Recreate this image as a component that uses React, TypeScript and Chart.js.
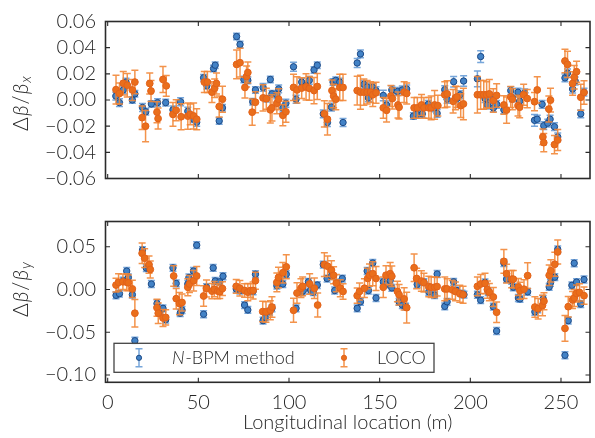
import { useEffect, useRef } from 'react';
import { Chart, registerables } from 'chart.js';

Chart.register(...registerables);

// ---- data: [longitudinal position (m), value, error] ----
const nbpmBetaX: [number, number, number][] = [
  [4.5, 0.003, 0.003], [6.5, -0.002, 0.003], [8.6, 0.0077, 0.003], [10.1, 0.0137, 0.003],
  [13.6, 0.0, 0.0025], [15.0, 0.0047, 0.0025], [19.2, -0.0057, 0.003], [21.0, -0.009, 0.0025],
  [24.1, -0.003, 0.0025], [27.5, -0.002, 0.003], [32.0, -0.002, 0.0025], [36.0, -0.0075, 0.003],
  [40.2, -0.0013, 0.003], [44.2, -0.0086, 0.003], [47.4, -0.0147, 0.0025], [49.1, -0.017, 0.003],
  [52.9, 0.017, 0.0025], [54.7, 0.011, 0.0025], [58.4, 0.024, 0.0025], [59.3, 0.0266, 0.0025],
  [61.5, -0.016, 0.0025], [63.3, -0.006, 0.0025], [71.1, 0.0485, 0.0025], [73.0, 0.0425, 0.0025],
  [75.1, 0.0157, 0.0025], [77.3, 0.015, 0.0025], [80.0, -0.0013, 0.0025], [81.5, 0.0077, 0.0025],
  [85.7, 0.0096, 0.003], [87.5, 0.001, 0.0025], [89.7, 0.0157, 0.0025], [90.6, 0.0047, 0.0025],
  [93.3, 0.004, 0.003], [94.3, 0.0085, 0.003], [96.6, -0.0062, 0.003], [98.3, -0.0025, 0.003],
  [102.5, 0.0254, 0.0035], [103.9, 0.0006, 0.003], [107.0, 0.0137, 0.003], [109.4, 0.011, 0.003],
  [111.2, 0.015, 0.003], [113.8, 0.023, 0.0025], [115.6, 0.0266, 0.0025], [118.9, -0.0106, 0.003],
  [121.2, -0.0172, 0.003], [123.4, -0.0055, 0.003], [124.3, 0.0137, 0.0025], [125.8, 0.015, 0.0025],
  [128.0, 0.0137, 0.003], [129.8, -0.0172, 0.003], [137.6, 0.0283, 0.0035], [139.4, 0.0352, 0.003],
  [141.3, 0.012, 0.003], [143.1, 0.01, 0.003], [143.8, 0.0016, 0.003], [146.2, 0.0096, 0.003],
  [148.0, 0.0072, 0.003], [152.0, 0.0035, 0.004], [153.8, -0.0038, 0.003], [156.7, 0.0077, 0.003],
  [159.8, 0.0065, 0.003], [162.5, 0.0077, 0.003], [164.9, 0.0084, 0.003], [168.6, -0.0123, 0.0025],
  [170.4, -0.011, 0.0025], [173.5, -0.0106, 0.0025], [176.8, -0.0033, 0.003], [180.3, -0.006, 0.003],
  [181.7, -0.0102, 0.003], [185.9, 0.0079, 0.003], [187.2, 0.0006, 0.003], [190.8, 0.014, 0.004],
  [192.6, 0.0011, 0.003], [194.4, 0.004, 0.003], [196.3, 0.0145, 0.004], [203.9, 0.0162, 0.006],
  [205.7, 0.0332, 0.0045], [208.1, 0.0011, 0.003], [209.4, -0.0038, 0.003], [210.5, 0.0023, 0.003],
  [212.7, -0.006, 0.003], [214.5, -0.0033, 0.003], [218.5, -0.0075, 0.003], [222.3, 0.0072, 0.003],
  [223.2, 0.0016, 0.003], [226.3, 0.006, 0.003], [227.2, -0.0009, 0.003], [230.0, 0.0055, 0.003],
  [235.4, -0.0155, 0.0045], [236.9, -0.0147, 0.003], [239.6, -0.0033, 0.003], [240.5, -0.0196, 0.003],
  [242.7, -0.0177, 0.003], [244.0, -0.0147, 0.003], [246.4, -0.0204, 0.003], [248.2, -0.0282, 0.003],
  [252.2, 0.0169, 0.003], [253.6, 0.0206, 0.003], [256.4, 0.0084, 0.003], [257.8, 0.0145, 0.003],
  [260.9, -0.0106, 0.003], [262.7, 0.006, 0.003],
];

const locoBetaX: [number, number, number][] = [
  [4.6, 0.0079, 0.011], [6.5, 0.005, 0.008], [8.6, 0.0128, 0.009], [10.8, 0.0113, 0.009],
  [13.6, 0.0077, 0.008], [15.0, 0.0137, 0.009], [19.0, -0.0135, 0.009], [20.9, -0.02, 0.012],
  [23.2, 0.0126, 0.008], [23.9, 0.0069, 0.008], [27.2, -0.0093, 0.008], [27.8, -0.0142, 0.008],
  [30.5, 0.0157, 0.01], [32.3, 0.0108, 0.008], [36.0, -0.011, 0.009], [37.8, -0.0079, 0.008],
  [40.5, -0.0128, 0.01], [44.2, -0.0123, 0.01], [45.5, -0.011, 0.008], [47.4, -0.0122, 0.01],
  [49.1, -0.0147, 0.008], [53.3, 0.0137, 0.008], [55.0, 0.0137, 0.008], [57.5, 0.006, 0.008],
  [59.0, 0.009, 0.007], [60.0, 0.0126, 0.008], [61.5, -0.005, 0.008], [63.3, 0.0006, 0.01],
  [71.1, 0.0272, 0.011], [73.0, 0.0285, 0.011], [75.7, 0.0096, 0.008], [76.6, 0.018, 0.008],
  [77.3, 0.021, 0.008], [79.7, -0.0093, 0.01], [81.5, -0.0017, 0.008], [85.7, 0.0016, 0.01],
  [87.5, 0.001, 0.008], [89.7, -0.0075, 0.01], [90.6, -0.006, 0.01], [93.3, -0.0025, 0.008],
  [94.3, 0.0006, 0.008], [96.6, -0.0117, 0.008], [98.3, -0.009, 0.008], [102.5, 0.0096, 0.01],
  [104.4, 0.0077, 0.01], [107.0, 0.0091, 0.008], [109.4, 0.01, 0.01], [111.2, 0.0089, 0.009],
  [113.8, 0.0072, 0.01], [115.6, 0.0103, 0.01], [119.5, -0.0106, 0.01], [121.2, -0.0147, 0.012],
  [123.7, 0.0072, 0.008], [124.6, 0.003, 0.009], [125.8, 0.0006, 0.008], [128.0, 0.0096, 0.01],
  [129.8, 0.0096, 0.01], [137.6, 0.0072, 0.011], [139.4, 0.006, 0.013], [141.3, 0.006, 0.01],
  [143.1, 0.006, 0.009], [145.0, 0.006, 0.008], [146.2, 0.004, 0.009], [148.0, 0.0055, 0.008],
  [152.0, -0.006, 0.008], [153.8, -0.0079, 0.009], [156.2, 0.003, 0.008], [157.0, 0.0011, 0.008],
  [160.1, -0.0038, 0.01], [160.7, -0.0055, 0.009], [163.5, 0.006, 0.008], [164.9, 0.005, 0.008],
  [169.0, -0.006, 0.008], [170.8, -0.006, 0.008], [173.1, -0.0038, 0.008], [174.4, -0.006, 0.008],
  [177.1, -0.006, 0.008], [178.4, -0.006, 0.009], [180.3, -0.0038, 0.011], [182.1, -0.0043, 0.008],
  [185.9, 0.004, 0.01], [187.2, 0.0047, 0.01], [190.5, -0.001, 0.009], [191.8, 0.0016, 0.009],
  [192.6, 0.0023, 0.008], [194.7, -0.0043, 0.009], [196.2, -0.003, 0.012], [203.9, 0.004, 0.014],
  [205.7, 0.004, 0.011], [207.4, 0.004, 0.011], [209.0, 0.004, 0.01], [210.5, 0.0047, 0.011],
  [212.7, -0.0004, 0.009], [214.5, 0.0035, 0.009], [218.5, -0.0038, 0.007], [220.0, -0.0077, 0.01],
  [222.3, 0.0023, 0.008], [223.2, 0.0006, 0.008], [226.3, -0.0043, 0.008], [227.2, -0.0055, 0.008],
  [229.4, 0.004, 0.008], [231.4, 0.0011, 0.007], [235.4, -0.0013, 0.007], [236.9, 0.0077, 0.01],
  [240.0, -0.0282, 0.006], [240.5, -0.0326, 0.007], [243.3, -0.0069, 0.01], [244.2, -0.0001, 0.009],
  [246.4, -0.0341, 0.007], [248.2, -0.0306, 0.008], [252.2, 0.0298, 0.009], [253.6, 0.0272, 0.01],
  [256.4, 0.0126, 0.009], [257.3, 0.0174, 0.009], [258.6, 0.0216, 0.008], [260.9, 0.0021, 0.01],
  [262.7, 0.0057, 0.009],
];

const nbpmBetaY: [number, number, number][] = [
  [4.6, -0.0068, 0.004], [6.5, -0.0049, 0.004], [8.6, 0.0102, 0.004], [10.5, 0.0216, 0.004],
  [11.4, 0.014, 0.004], [13.6, -0.006, 0.004], [15.0, -0.0599, 0.004], [19.2, 0.0461, 0.004],
  [21.3, 0.0251, 0.004], [22.8, 0.0251, 0.004], [24.1, 0.0064, 0.004], [27.2, -0.0164, 0.004],
  [28.7, -0.0258, 0.004], [30.5, -0.022, 0.004], [32.0, -0.0352, 0.004], [36.0, 0.0253, 0.004],
  [37.8, 0.0071, 0.004], [40.0, -0.0277, 0.004], [41.0, -0.024, 0.004], [44.2, 0.0064, 0.004],
  [44.8, 0.014, 0.004], [47.3, 0.0216, 0.004], [49.1, 0.0518, 0.004], [52.9, -0.0289, 0.004],
  [54.5, 0.0026, 0.004], [58.2, 0.0253, 0.004], [59.3, 0.01, 0.004], [61.8, 0.009, 0.004],
  [63.6, 0.0155, 0.004], [70.9, 0.0007, 0.004], [72.9, -0.0012, 0.004], [75.5, -0.0182, 0.004],
  [77.3, -0.0239, 0.004], [80.2, -0.002, 0.004], [81.5, 0.0178, 0.004], [85.7, -0.0364, 0.004],
  [86.9, -0.0326, 0.004], [89.3, -0.0258, 0.004], [90.6, -0.022, 0.004], [93.3, 0.0045, 0.004],
  [94.8, 0.009, 0.004], [96.6, 0.0064, 0.004], [98.5, 0.0178, 0.004], [103.9, -0.022, 0.004],
  [107.0, -0.0031, 0.004], [107.9, -0.0012, 0.004], [110.7, 0.009, 0.004], [111.9, -0.0005, 0.004],
  [113.4, -0.0031, 0.004], [115.6, 0.0052, 0.004], [118.9, 0.0291, 0.004], [121.0, 0.0128, 0.004],
  [123.4, 0.0158, 0.004], [125.2, -0.0012, 0.004], [127.0, 0.0079, 0.004], [129.4, 0.0128, 0.004],
  [137.6, -0.022, 0.004], [139.4, -0.0144, 0.004], [143.1, 0.0216, 0.004], [143.8, -0.0012, 0.004],
  [146.2, 0.031, 0.004], [148.0, -0.0099, 0.004], [152.0, 0.009, 0.004], [153.5, 0.006, 0.004],
  [155.8, 0.0105, 0.004], [156.7, 0.0019, 0.004], [160.7, -0.0144, 0.004], [162.5, -0.0182, 0.004],
  [164.3, -0.0201, 0.004], [170.7, 0.006, 0.004], [174.4, 0.0087, 0.004], [177.1, -0.0027, 0.004],
  [180.3, -0.0065, 0.004], [181.7, 0.0181, 0.004], [185.9, -0.0197, 0.004], [187.2, -0.0144, 0.004],
  [190.8, 0.009, 0.004], [192.6, -0.0012, 0.004], [195.4, -0.0049, 0.004], [196.5, -0.006, 0.004],
  [203.9, -0.0061, 0.004], [205.7, -0.0125, 0.004], [208.1, 0.0083, 0.004], [209.9, -0.0031, 0.004],
  [212.7, -0.0201, 0.004], [214.5, -0.0485, 0.004], [218.5, 0.031, 0.004], [220.0, 0.0121, 0.004],
  [222.8, 0.0102, 0.004], [223.7, 0.0026, 0.004], [226.5, -0.0099, 0.004], [227.4, -0.011, 0.004],
  [231.6, -0.0027, 0.004], [235.6, -0.0261, 0.004], [237.1, -0.0231, 0.004], [240.2, -0.011, 0.004],
  [243.5, 0.003, 0.004], [244.2, 0.0079, 0.004], [246.6, 0.0144, 0.004], [248.2, 0.0469, 0.004],
  [252.2, -0.0769, 0.004], [254.0, -0.0364, 0.004], [256.0, 0.0049, 0.004], [257.3, 0.0307, 0.004],
  [258.6, 0.0087, 0.004], [260.9, -0.017, 0.004], [262.7, 0.0117, 0.004],
];

const locoBetaY: [number, number, number][] = [
  [4.6, 0.0052, 0.008], [6.0, 0.0083, 0.01], [8.4, 0.009, 0.009], [10.5, 0.0085, 0.01],
  [11.4, 0.0079, 0.009], [13.6, 0.0007, 0.01], [15.0, -0.0277, 0.016], [19.0, 0.0423, 0.012],
  [20.4, 0.0366, 0.011], [22.8, 0.0291, 0.01], [23.5, 0.0234, 0.01], [27.2, -0.0213, 0.01],
  [27.9, -0.0277, 0.012], [30.5, -0.0333, 0.01], [32.0, -0.0326, 0.009], [36.4, 0.0158, 0.012],
  [37.8, -0.0107, 0.012], [39.6, -0.0164, 0.013], [41.0, -0.0152, 0.01], [44.2, 0.0026, 0.01],
  [45.1, 0.0064, 0.01], [47.4, 0.0102, 0.012], [49.1, 0.0158, 0.011], [52.9, -0.0076, 0.012],
  [54.5, 0.0011, 0.01], [57.5, -0.0019, 0.009], [58.8, 0.0004, 0.009], [60.7, -0.0019, 0.009],
  [61.8, -0.0026, 0.008], [63.3, 0.0011, 0.008], [70.9, 0.0037, 0.008], [72.9, 0.0015, 0.009],
  [75.5, -0.0012, 0.008], [77.3, -0.0031, 0.01], [78.8, -0.0012, 0.008], [80.2, -0.0012, 0.01],
  [81.5, 0.0102, 0.01], [85.5, -0.0258, 0.012], [87.3, -0.0262, 0.012], [89.7, -0.0243, 0.011],
  [90.6, -0.0205, 0.012], [93.3, 0.0083, 0.011], [94.2, 0.014, 0.012], [96.6, 0.0196, 0.012],
  [98.5, 0.0265, 0.014], [102.5, -0.0243, 0.014], [104.4, -0.0042, 0.012], [106.6, 0.0015, 0.011],
  [107.5, 0.0037, 0.011], [111.4, 0.0064, 0.012], [114.0, 0.0015, 0.012], [115.8, -0.0182, 0.014],
  [119.5, 0.0291, 0.014], [121.3, 0.0272, 0.012], [123.4, 0.0227, 0.011], [124.6, 0.0166, 0.01],
  [126.1, 0.0075, 0.01], [128.3, 0.0015, 0.01], [129.8, -0.0023, 0.009], [137.6, -0.0072, 0.009],
  [138.9, -0.0023, 0.01], [141.6, 0.0015, 0.011], [143.4, 0.0129, 0.012], [144.4, 0.0167, 0.013],
  [146.2, 0.0185, 0.014], [148.0, 0.0129, 0.014], [152.0, 0.0026, 0.012], [153.5, 0.0167, 0.011],
  [155.8, 0.0185, 0.013], [156.7, 0.0155, 0.012], [159.8, -0.0023, 0.012], [160.7, -0.0061, 0.012],
  [163.5, -0.011, 0.013], [164.9, -0.0212, 0.018], [169.0, 0.0254, 0.016], [170.4, 0.0129, 0.012],
  [173.0, 0.0099, 0.012], [174.4, 0.008, 0.011], [177.1, 0.0034, 0.012], [178.4, 0.0026, 0.012],
  [180.3, 0.0026, 0.012], [181.7, 0.0034, 0.011], [185.9, 0.0007, 0.014], [187.2, 0.0007, 0.012],
  [190.0, -0.0004, 0.011], [191.8, -0.0023, 0.011], [194.2, -0.0049, 0.01], [196.0, -0.0061, 0.01],
  [203.9, 0.0037, 0.011], [205.7, 0.0064, 0.011], [208.1, 0.0071, 0.012], [209.4, -0.0001, 0.01],
  [210.5, -0.0031, 0.01], [212.7, -0.0088, 0.011], [214.5, -0.0266, 0.012], [218.5, 0.0329, 0.014],
  [220.0, 0.0185, 0.011], [222.8, 0.0121, 0.01], [223.7, 0.0121, 0.01], [226.5, 0.003, 0.01],
  [227.4, -0.0015, 0.01], [229.6, 0.0004, 0.011], [231.6, 0.0162, 0.015], [235.6, -0.0205, 0.012],
  [237.4, -0.0224, 0.012], [239.8, -0.0186, 0.012], [240.6, -0.0137, 0.01], [243.5, 0.0166, 0.012],
  [244.4, 0.0219, 0.013], [246.6, 0.0295, 0.014], [248.2, 0.0439, 0.014], [252.2, -0.0455, 0.015],
  [254.0, -0.0201, 0.012], [256.4, -0.0122, 0.01], [257.3, -0.01, 0.01], [258.6, -0.0046, 0.01],
  [260.2, -0.0034, 0.01], [262.7, -0.0072, 0.01],
];

const xTicks = [0, 50, 100, 150, 200, 250];
const yTicksTop = [-0.06, -0.04, -0.02, 0.0, 0.02, 0.04, 0.06];
const yTicksBottom = [-0.1, -0.05, 0.0, 0.05];
const seriesLabels = ['N-BPM method', 'LOCO'];
const xTitle = 'Longitudinal location (m)';

// ---- styles ----
const FONT = 'Lato, "DejaVu Sans", sans-serif';
const WEIGHT = 300;
const TEXT = '#262626';
const FRAME = '#2b2b2b';
const BLUE_FILL = '#4282c6';
const BLUE_EDGE = '#1d4a86';
const BLUE_ERR = 'rgba(95,150,212,0.85)';
const ORANGE_FILL = '#ea6e1b';
const ORANGE_EDGE = '#e2621a';
const ORANGE_ERR = 'rgba(242,135,55,0.9)';

const fmt = (v: number) => (v < -1e-9 ? '\u2212' : '') + Math.abs(v).toFixed(2);

const errorBarPlugin = {
  id: 'errorBars',
  beforeDatasetDraw(chart: any, args: any) {
    const ds = chart.data.datasets[args.index];
    const errs: number[] = ds.errors;
    const ys = chart.scales.y;
    const { ctx, chartArea } = chart;
    ctx.save();
    ctx.beginPath();
    ctx.rect(chartArea.left, chartArea.top, chartArea.right - chartArea.left, chartArea.bottom - chartArea.top);
    ctx.clip();
    ctx.strokeStyle = ds.errorColor;
    ctx.lineWidth = 1.5;
    const cap = 3.5;
    args.meta.data.forEach((pt: any, i: number) => {
      const v = ds.data[i].y;
      const hi = ys.getPixelForValue(v + errs[i]);
      const lo = ys.getPixelForValue(v - errs[i]);
      ctx.beginPath();
      ctx.moveTo(pt.x, hi);
      ctx.lineTo(pt.x, lo);
      ctx.moveTo(pt.x - cap, hi);
      ctx.lineTo(pt.x + cap, hi);
      ctx.moveTo(pt.x - cap, lo);
      ctx.lineTo(pt.x + cap, lo);
      ctx.stroke();
    });
    ctx.restore();
  },
};

const framePlugin = {
  id: 'frameTicks',
  afterDatasetsDraw(chart: any) {
    const { ctx, chartArea: a } = chart;
    const xs = chart.scales.x;
    const ys = chart.scales.y;
    ctx.save();
    ctx.strokeStyle = FRAME;
    ctx.lineWidth = 1.1;
    const tl = 4.5;
    ctx.beginPath();
    xTicks.forEach((t) => {
      const px = xs.getPixelForValue(t);
      ctx.moveTo(px, a.bottom);
      ctx.lineTo(px, a.bottom - tl);
      ctx.moveTo(px, a.top);
      ctx.lineTo(px, a.top + tl);
    });
    ys.ticks.forEach((t: any) => {
      const py = ys.getPixelForValue(t.value);
      ctx.moveTo(a.left, py);
      ctx.lineTo(a.left + tl, py);
      ctx.moveTo(a.right, py);
      ctx.lineTo(a.right - tl, py);
    });
    ctx.stroke();
    ctx.lineWidth = 1.6;
    ctx.strokeRect(a.left, a.top, a.right - a.left, a.bottom - a.top);
    ctx.restore();
  },
};

const makeYTitlePlugin = (sub: string, cy: number) => ({
  id: 'yTitle',
  afterDraw(chart: any) {
    const { ctx } = chart;
    const size = 21;
    const parts: { t: string; f: string; dy: number }[] = [
      { t: '\u0394', f: `${WEIGHT} ${size}px ${FONT}`, dy: 0 },
      { t: '\u03B2', f: `italic ${WEIGHT} ${size}px ${FONT}`, dy: 0 },
      { t: '/', f: `${WEIGHT} ${size}px ${FONT}`, dy: 0 },
      { t: '\u03B2', f: `italic ${WEIGHT} ${size}px ${FONT}`, dy: 0 },
      { t: sub, f: `italic ${WEIGHT} ${Math.round(size * 0.7)}px ${FONT}`, dy: 5 },
    ];
    ctx.save();
    let total = 0;
    const widths = parts.map((p) => {
      ctx.font = p.f;
      const w = ctx.measureText(p.t).width + 1;
      total += w;
      return w;
    });
    ctx.translate(21, cy);
    ctx.rotate(-Math.PI / 2);
    ctx.fillStyle = TEXT;
    ctx.textBaseline = 'middle';
    ctx.textAlign = 'left';
    let x = -total / 2;
    parts.forEach((p, i) => {
      ctx.font = p.f;
      ctx.fillText(p.t, x, p.dy);
      x += widths[i];
    });
    ctx.restore();
  },
});

const legendPlugin = {
  id: 'customLegend',
  afterDraw(chart: any) {
    const { ctx, chartArea: a } = chart;
    const left = a.left + 8.5;
    const right = 434;
    const bottom = a.bottom - 10;
    const top = bottom - 29;
    const cy = (top + bottom) / 2;
    ctx.save();
    ctx.fillStyle = 'rgba(255,255,255,0.9)';
    ctx.fillRect(left, top, right - left, bottom - top);
    ctx.strokeStyle = '#444';
    ctx.lineWidth = 1.3;
    ctx.strokeRect(left, top, right - left, bottom - top);
    const items = [
      { x: left + 25, ds: chart.data.datasets[0], italicFirst: true },
      { x: left + 230, ds: chart.data.datasets[1], italicFirst: false },
    ];
    items.forEach((it) => {
      ctx.strokeStyle = it.ds.errorColor;
      ctx.lineWidth = 1.5;
      ctx.beginPath();
      ctx.moveTo(it.x, cy - 9);
      ctx.lineTo(it.x, cy + 9);
      ctx.moveTo(it.x - 3.5, cy - 9);
      ctx.lineTo(it.x + 3.5, cy - 9);
      ctx.moveTo(it.x - 3.5, cy + 9);
      ctx.lineTo(it.x + 3.5, cy + 9);
      ctx.stroke();
      ctx.beginPath();
      ctx.arc(it.x, cy, 2.6, 0, Math.PI * 2);
      ctx.fillStyle = it.ds.backgroundColor;
      ctx.fill();
      ctx.strokeStyle = it.ds.borderColor;
      ctx.lineWidth = 1;
      ctx.stroke();
      ctx.fillStyle = TEXT;
      ctx.textBaseline = 'middle';
      ctx.textAlign = 'left';
      const label: string = it.ds.label;
      let tx = it.x + 33;
      if (it.italicFirst) {
        ctx.font = `italic ${WEIGHT} 18px ${FONT}`;
        ctx.fillText(label[0], tx, cy);
        tx += ctx.measureText(label[0]).width + 0.5;
        ctx.font = `${WEIGHT} 18px ${FONT}`;
        ctx.fillText(label.slice(1), tx, cy);
      } else {
        ctx.font = `${WEIGHT} 18px ${FONT}`;
        ctx.fillText(label, tx, cy);
      }
    });
    ctx.restore();
  },
};

function makeDatasets(blue: [number, number, number][], orange: [number, number, number][]) {
  return [
    {
      label: seriesLabels[0],
      data: blue.map(([s, v]) => ({ x: s, y: v })),
      errors: blue.map((p) => p[2]),
      errorColor: BLUE_ERR,
      backgroundColor: BLUE_FILL,
      borderColor: BLUE_EDGE,
      borderWidth: 1,
      pointRadius: 3.2,
      order: 2,
    },
    {
      label: seriesLabels[1],
      data: orange.map(([s, v]) => ({ x: s, y: v })),
      errors: orange.map((p) => p[2]),
      errorColor: ORANGE_ERR,
      backgroundColor: ORANGE_FILL,
      borderColor: ORANGE_EDGE,
      borderWidth: 1,
      pointRadius: 3.4,
      order: 1,
    },
  ];
}

function makeConfig(opts: {
  blue: [number, number, number][];
  orange: [number, number, number][];
  yMin: number;
  yMax: number;
  yTicks: number[];
  padTop: number;
  padBottom: number;
  xHeight: number;
  showX: boolean;
  plugins: any[];
}): any {
  const tickFont = { family: FONT, size: 20, weight: WEIGHT };
  return {
    type: 'scatter',
    data: { datasets: makeDatasets(opts.blue, opts.orange) },
    options: {
      responsive: false,
      animation: false,
      events: [],
      layout: { padding: { left: 0, right: 1, top: opts.padTop, bottom: opts.padBottom } },
      plugins: { legend: { display: false }, tooltip: { enabled: false } },
      scales: {
        x: {
          type: 'linear',
          min: -1.2,
          max: 266,
          grid: { display: false, drawTicks: false },
          border: { display: false },
          afterBuildTicks: (s: any) => {
            s.ticks = xTicks.map((v) => ({ value: v }));
          },
          afterFit: (s: any) => {
            s.height = opts.xHeight;
          },
          ticks: {
            display: opts.showX,
            padding: 8,
            color: TEXT,
            font: tickFont,
            maxRotation: 0,
            callback: (v: number) => String(v),
          },
          title: {
            display: opts.showX,
            text: xTitle,
            color: TEXT,
            font: tickFont,
            padding: { top: 0, bottom: 3 },
          },
        },
        y: {
          type: 'linear',
          min: opts.yMin,
          max: opts.yMax,
          grid: { display: false, drawTicks: false },
          border: { display: false },
          afterBuildTicks: (s: any) => {
            s.ticks = opts.yTicks.map((v) => ({ value: v }));
          },
          afterFit: (s: any) => {
            s.width = 105.5;
          },
          ticks: {
            padding: 9.5,
            color: TEXT,
            font: tickFont,
            callback: (v: number) => fmt(v),
          },
        },
      },
    },
    plugins: [errorBarPlugin, framePlugin, ...opts.plugins],
  };
}

export default function App() {
  const topRef = useRef<HTMLCanvasElement>(null);
  const botRef = useRef<HTMLCanvasElement>(null);

  useEffect(() => {
    if (!topRef.current || !botRef.current) return;
    const top = new Chart(
      topRef.current,
      makeConfig({
        blue: nbpmBetaX,
        orange: locoBetaX,
        yMin: -0.06,
        yMax: 0.06,
        yTicks: yTicksTop,
        padTop: 19.3,
        padBottom: 16.7,
        xHeight: 0,
        showX: false,
        plugins: [makeYTitlePlugin('x', 103)],
      })
    );
    const bot = new Chart(
      botRef.current,
      makeConfig({
        blue: nbpmBetaY,
        orange: locoBetaY,
        yMin: -0.1085,
        yMax: 0.0795,
        yTicks: yTicksBottom,
        padTop: 17.3,
        padBottom: 0,
        xHeight: 55.7,
        showX: true,
        plugins: [makeYTitlePlugin('y', 89), legendPlugin],
      })
    );
    return () => {
      top.destroy();
      bot.destroy();
    };
  }, []);

  return (
    <div style={{ position: 'absolute', left: 0, top: 0, width: 595, height: 438, background: '#fff' }}>
      <canvas ref={topRef} width={595} height={200} style={{ position: 'absolute', left: 0, top: 0, width: 595, height: 200 }} />
      <canvas ref={botRef} width={595} height={238} style={{ position: 'absolute', left: 0, top: 200, width: 595, height: 238 }} />
    </div>
  );
}
